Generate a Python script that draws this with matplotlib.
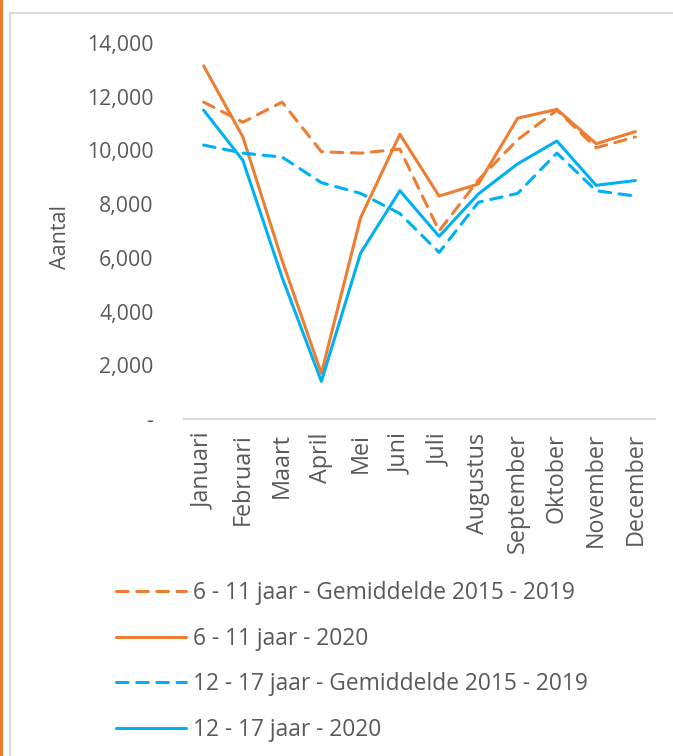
import matplotlib
matplotlib.use("Agg")
import matplotlib.pyplot as plt
from matplotlib.patches import Rectangle
from matplotlib.ticker import FuncFormatter

maanden = ["Januari", "Februari", "Maart", "April", "Mei", "Juni", "Juli",
           "Augustus", "September", "Oktober", "November", "December"]

# 6 - 11 jaar
kind_gem = [11800, 11050, 11800, 9950, 9900, 10050, 7000, 8900, 10400, 11500, 10100, 10500]
kind_2020 = [13150, 10500, 5900, 1700, 7500, 10600, 8300, 8750, 11200, 11530, 10250, 10700]
# 12 - 17 jaar
jong_gem = [10200, 9900, 9750, 8800, 8400, 7650, 6200, 8070, 8400, 9900, 8500, 8300]
jong_2020 = [11500, 9630, 5270, 1400, 6180, 8500, 6800, 8380, 9500, 10350, 8700, 8880]

labels = ["6 - 11 jaar - Gemiddelde 2015 - 2019", "6 - 11 jaar - 2020",
          "12 - 17 jaar - Gemiddelde 2015 - 2019", "12 - 17 jaar - 2020"]

oranje = "#ED7D31"
blauw = "#00B0F0"
grijs = "#595959"

plt.rcParams['font.family'] = ['Open Sans', 'DejaVu Sans']

fig = plt.figure(figsize=(6.73, 7.56), dpi=100)
ax = fig.add_axes([184 / 673, 1 - 419 / 756, 471 / 673, 376 / 756])

x = range(len(maanden))
dash = (0, (3.8, 2.8))
ax.plot(x, kind_gem, color=oranje, lw=2.2, linestyle=dash, dash_capstyle="round", label=labels[0])
ax.plot(x, kind_2020, color=oranje, lw=2.2, solid_capstyle="round", label=labels[1])
ax.plot(x, jong_gem, color=blauw, lw=2.2, linestyle=dash, dash_capstyle="round", label=labels[2])
ax.plot(x, jong_2020, color=blauw, lw=2.2, solid_capstyle="round", label=labels[3])

ax.set_xlim(-0.5, 11.5)
ax.set_ylim(0, 14000)
ax.set_yticks(range(0, 14001, 2000))
ax.yaxis.set_major_formatter(FuncFormatter(lambda v, p: "-" if v == 0 else "{:,.0f}".format(v)))
ax.set_xticks(list(x))
ax.set_xticklabels(maanden, rotation=90)
ax.tick_params(axis="both", length=0, labelcolor=grijs)
ax.tick_params(axis="y", pad=22, labelsize=15.3)
ax.tick_params(axis="x", pad=10, labelsize=16.8)

for s in ["top", "right", "left"]:
    ax.spines[s].set_visible(False)
ax.spines["bottom"].set_color("#D9D9D9")
ax.spines["bottom"].set_linewidth(1.5)

fig.text(60 / 673, 1 - 237 / 756, "Aantal", rotation=90, ha="center", va="center",
         fontsize=15.5, color=grijs)

leg = fig.legend(loc="upper left", bbox_to_anchor=(116 / 673, 1 - 581 / 756),
                 frameon=False, fontsize=16.4, handlelength=3.07, handletextpad=0.3,
                 labelspacing=0.95, borderpad=0, borderaxespad=0)
for t in leg.get_texts():
    t.set_color(grijs)

# kader en oranje rand
fig.patches.append(Rectangle((10 / 673, -0.05), 1.0, 1 - 13 / 756 + 0.05, transform=fig.transFigure,
                             fill=False, edgecolor="#D9D9D9", linewidth=1.5))
fig.patches.append(Rectangle((0, 0), 3 / 673, 1, transform=fig.transFigure,
                             facecolor=oranje, edgecolor="none"))

fig.savefig("out.png", dpi=100)
